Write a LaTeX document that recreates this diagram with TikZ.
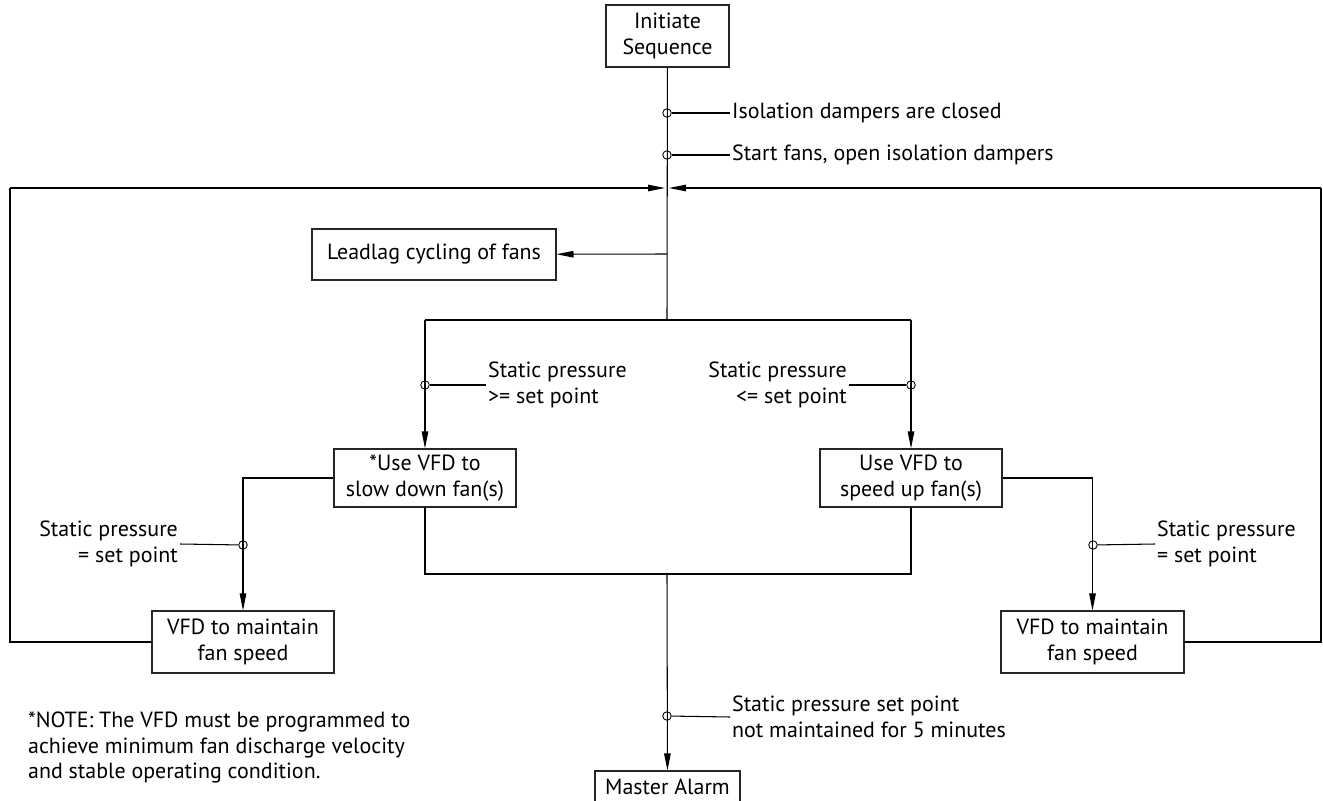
\documentclass[tikz,border=0pt]{standalone}
\usepackage{fontspec}
\setmainfont{PT Sans}
\usepackage{tikz}
\usetikzlibrary{arrows.meta}
\tikzstyle{box}=[fill=white, draw=black!85, line width=0.6pt, shape=rectangle, align=center, inner sep=0pt, font=\fontsize{12.5pt}{14.5pt}\selectfont]
\tikzstyle{label}=[inner sep=1pt, font=\fontsize{12.5pt}{14.5pt}\selectfont]
\tikzstyle{tap}=[draw=black, line width=0.5pt, shape=circle, minimum size=0.17cm, inner sep=0pt]
\tikzstyle{plain edge}=[-, draw=black, line width=0.6pt]
\tikzstyle{flow edge}=[-{Triangle[length=0.34cm, width=0.13cm]}, draw=black, line width=0.6pt]
\pgfdeclarelayer{nodelayer}
\pgfdeclarelayer{edgelayer}
\pgfsetlayers{main,edgelayer,nodelayer}

\begin{document}
\begin{tikzpicture}[x=0.02cm, y=-0.02cm]
        	\useasboundingbox (0, 0) rectangle (1323, 801);
        	\begin{pgfonlayer}{nodelayer}
        		\node [style=box, minimum width=2.46cm, minimum height=1.24cm] (0) at (667.5, 36) {Initiate\\Sequence};
        		\node [style=box, minimum width=4.88cm, minimum height=1.02cm] (1) at (434, 254.5) {Leadlag cycling of fans};
        		\node [style=box, minimum width=3.64cm, minimum height=1.16cm] (2) at (425, 478) {*Use VFD to\\slow down fan(s)};
        		\node [style=box, minimum width=3.64cm, minimum height=1.16cm] (3) at (911, 478) {Use VFD to\\speed up fan(s)};
        		\node [style=box, minimum width=3.64cm, minimum height=1.24cm] (4) at (243, 642) {VFD to maintain\\fan speed};
        		\node [style=box, minimum width=3.66cm, minimum height=1.24cm] (5) at (1092.5, 642) {VFD to maintain\\fan speed};
        		\node [style=box, minimum width=2.9cm, minimum height=0.64cm] (6) at (667.5, 787) {Master Alarm};
        		\node [style=tap] (7) at (667, 113) {};
        		\node [style=tap] (8) at (667, 155) {};
        		\node [style=tap] (9) at (425, 385) {};
        		\node [style=tap] (10) at (911, 385) {};
        		\node [style=tap] (11) at (243, 545) {};
        		\node [style=tap] (12) at (1093, 545) {};
        		\node [style=tap] (13) at (667, 716) {};
        		\node [style=label, anchor=west] (14) at (730, 113) {Isolation dampers are closed};
        		\node [style=label, anchor=west] (15) at (730, 155) {Start fans, open isolation dampers};
        		\node [style=label, anchor=west, align=left] (16) at (486, 385) {Static pressure\\>= set point};
        		\node [style=label, anchor=east, align=right] (17) at (849, 385) {Static pressure\\<= set point};
        		\node [style=label, anchor=east, align=right] (18) at (180, 544) {Static pressure\\= set point};
        		\node [style=label, anchor=west, align=left] (19) at (1155, 544) {Static pressure\\= set point};
        		\node [style=label, anchor=west, align=left] (20) at (730, 717) {Static pressure set point\\not maintained for 5 minutes};
        		\node [style=label, anchor=west, align=left] (21) at (26, 747.5) {*NOTE: The VFD must be programmed to\\achieve minimum fan discharge velocity\\and stable operating condition.};
        		\coordinate (22) at (10, 188);
        		\coordinate (23) at (1321, 188);
        		\coordinate (24) at (665, 188);
        		\coordinate (25) at (669, 188);
        		\coordinate (26) at (667, 254);
        		\coordinate (27) at (667, 320);
        		\coordinate (28) at (425, 320);
        		\coordinate (29) at (911, 320);
        		\coordinate (30) at (667, 574);
        	\end{pgfonlayer}
        	\begin{pgfonlayer}{edgelayer}
        		\draw [style=plain edge] (0) to (27);
        		\draw [style=plain edge] (28) to (29);
        		\draw [style=flow edge] (26) to (1);
        		\draw [style=flow edge] (28) to (2);
        		\draw [style=flow edge] (29) to (3);
        		\draw [style=flow edge] (2.west) -| (4.north);
        		\draw [style=flow edge] (3.east) -| (5.north);
        		\draw [style=plain edge] (4.west) -| (22);
        		\draw [style=flow edge] (22) to (24);
        		\draw [style=plain edge] (5.east) -| (23);
        		\draw [style=flow edge] (23) to (25);
        		\draw [style=plain edge] (2.south) |- (30) -| (3.south);
        		\draw [style=flow edge] (30) to (6);
        		\draw [style=plain edge] (7) to (14.west);
        		\draw [style=plain edge] (8) to (15.west);
        		\draw [style=plain edge] (9) to (16.west);
        		\draw [style=plain edge] (10) to (17.east);
        		\draw [style=plain edge] (11) to (18.east);
        		\draw [style=plain edge] (12) to (19.west);
        		\draw [style=plain edge] (13) to (20.west);
        	\end{pgfonlayer}
\end{tikzpicture}
\end{document}
